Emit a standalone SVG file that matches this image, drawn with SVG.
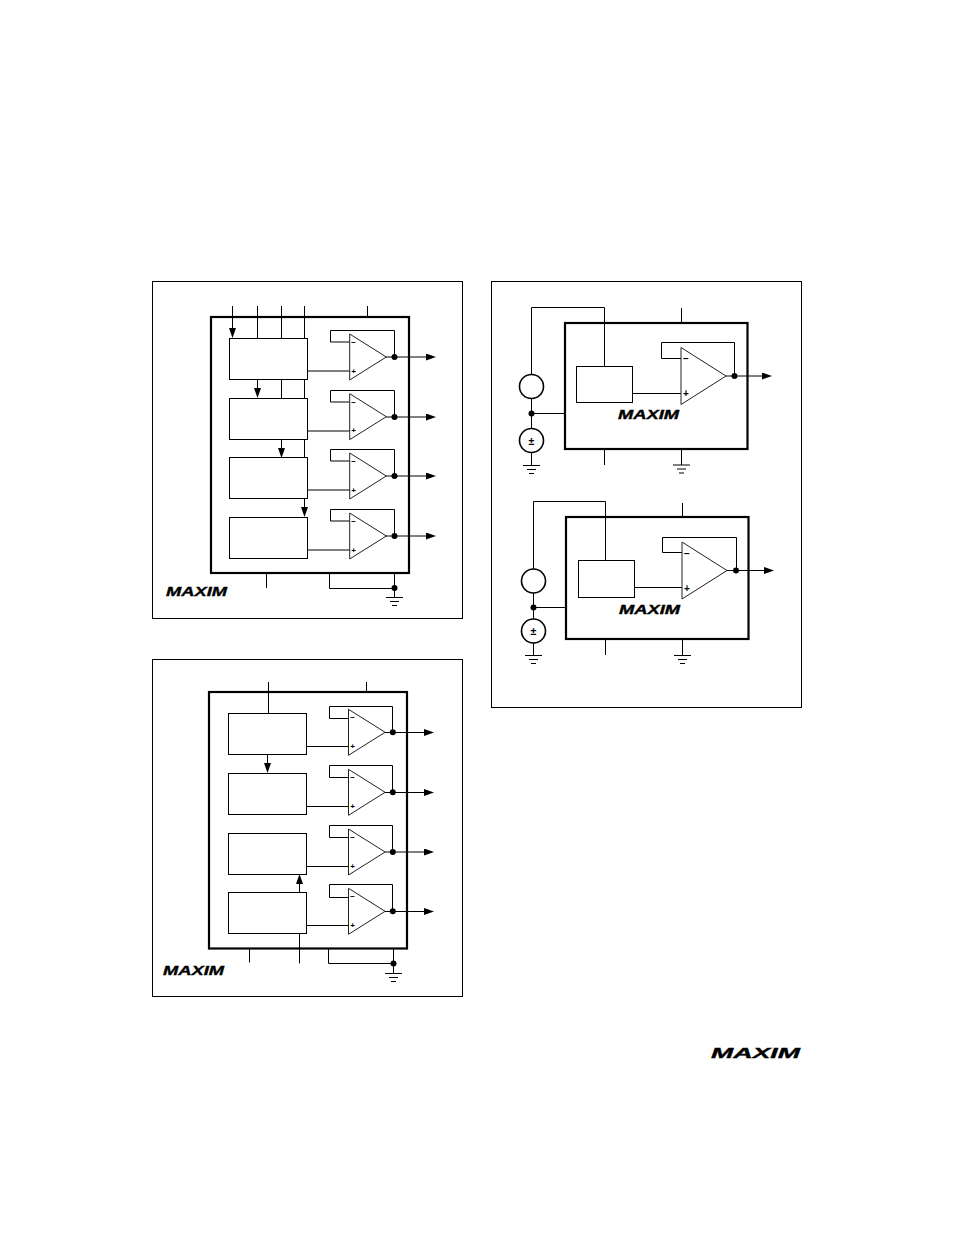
<svg xmlns="http://www.w3.org/2000/svg" width="954" height="1235" viewBox="0 0 954 1235">
<style>
.w{fill:none;stroke:#000;stroke-width:1}
.a{marker-end:url(#arrow)}
.panel{fill:#fff;stroke:#000;stroke-width:1}
.ic{fill:none;stroke:#000;stroke-width:2.2}
.blk{fill:#fff;stroke:#000;stroke-width:1}
.amp{fill:#fff;stroke:#222;stroke-width:1;stroke-linejoin:miter}
.src{fill:#fff;stroke:#000;stroke-width:1.6}
.dot{fill:#000}
.sgn{font-family:"Liberation Sans",Arial,sans-serif;font-weight:700;fill:#000;text-anchor:middle}
.logo{font-family:"Liberation Sans",Arial,sans-serif;font-weight:700;font-style:italic;fill:#000;stroke:#000;stroke-width:.35}
</style>
<defs>
<marker id="arrow" markerUnits="userSpaceOnUse" markerWidth="11" markerHeight="8" refX="7" refY="3.5" orient="auto">
<path d="M0 0L10 3.5L0 7Z" fill="#000"/>
</marker>
<g id="amp-s">
<path class="amp" d="M0 -23L36.6 0L0 23Z"/>
<text class="sgn" x="4" y="-12" font-size="8">−</text>
<text class="sgn" x="4" y="16.5" font-size="8">+</text>
</g>
<g id="amp-l">
<path class="amp" d="M0 -28.5L45 0L0 28.5Z"/>
<text class="sgn" x="5" y="-14" font-size="10">−</text>
<text class="sgn" x="5" y="21" font-size="10">+</text>
</g>
<g id="gnd">
<path class="w" d="M-8.5 0H8.5M-4.5 4H4.5M-2.5 8H2.5"/>
</g>
</defs>
<rect width="954" height="1235" fill="#fff"/>
<rect class="panel" x="152.5" y="281.5" width="310" height="337"/>
<rect class="panel" x="152.5" y="659.5" width="310" height="337"/>
<rect class="panel" x="491.5" y="281.5" width="310" height="426"/>

<g id="connectors">
<!-- panel 1 -->
<path class="w a" d="M232.5 306V335"/>
<path class="w" d="M257.5 306V338M281.5 306V338M304.5 306V338M367.5 306V317"/>
<path class="w a" d="M257.5 379V395"/>
<path class="w" d="M281.5 379V398M304.5 379V398M304.5 439V457"/>
<path class="w a" d="M281.5 439V455"/>
<path class="w a" d="M304.5 498V514"/>
<path class="w" d="M307 371H350M307 431H350M307 490H350M307 550H350"/>
<path class="w" d="M350 342H330.5V330.5H394.5V357M350 402H330.5V390.5H394.5V417M350 461H330.5V449.5H394.5V476M350 521H330.5V509.5H394.5V536"/>
<path class="w a" d="M386 357H433"/>
<path class="w a" d="M386 417H433"/>
<path class="w a" d="M386 476H433"/>
<path class="w a" d="M386 536H433"/>
<path class="w" d="M266.5 573V588M329.5 573V588.5H394.5M394.5 573V597"/>
<circle class="dot" cx="394.5" cy="357" r="3"/><circle class="dot" cx="394.5" cy="417" r="3"/><circle class="dot" cx="394.5" cy="476" r="3"/><circle class="dot" cx="394.5" cy="536" r="3"/><circle class="dot" cx="394.5" cy="588" r="3"/>
<!-- panel 2 -->
<path class="w" d="M268.5 682V713M366.5 682V692"/>
<path class="w a" d="M267.5 754V770"/>
<path class="w a" d="M299.5 892V877"/>
<path class="w" d="M299.5 933V963.5M249.5 948V962.5M328.5 948V963.5H393.5M393.5 948V973"/>
<path class="w" d="M306 746.5H349M306 806.5H349M306 866.5H349M306 925.5H349"/>
<path class="w" d="M349 718.5H329.5V706.5H392.5V732M349 777.5H329.5V765.5H392.5V792M349 837.5H329.5V825.5H392.5V852M349 897.5H329.5V884.5H392.5V911"/>
<path class="w a" d="M385 732.5H431"/>
<path class="w a" d="M385 792.5H431"/>
<path class="w a" d="M385 852H431"/>
<path class="w a" d="M385 911.5H431"/>
<circle class="dot" cx="392.8" cy="732.3" r="3"/><circle class="dot" cx="392.8" cy="792.3" r="3"/><circle class="dot" cx="392.8" cy="852" r="3"/><circle class="dot" cx="392.8" cy="911.3" r="3"/><circle class="dot" cx="393.5" cy="963.5" r="3"/>
<!-- panel 3 top -->
<path class="w" d="M531.5 374V307.5H604.5V366M681.5 308V323M531.5 398V428M531.5 413.5H565M531.5 452V465M604.5 449V465M681.5 449V465"/>
<path class="w" d="M632 393.5H681M681 358.5H661.5V342.5H734.5V376"/>
<path class="w a" d="M725 376H769"/>
<circle class="dot" cx="734.5" cy="376" r="3"/><circle class="dot" cx="531.5" cy="413.5" r="3"/>
<!-- panel 3 bottom -->
<path class="w" d="M533.5 569V501.5H605.5V560M682.5 503V517M533.5 593V619M533.5 607.5H566M533.5 643V655M605.5 639V655M682.5 639V655"/>
<path class="w" d="M634 587.5H682M682 552.5H662.5V537.5H736.5V570.5"/>
<path class="w a" d="M727 570.5H771"/>
<circle class="dot" cx="736" cy="570.5" r="3"/><circle class="dot" cx="533.5" cy="607.5" r="3"/>
</g>

<g id="ic-1"><rect class="ic" x="211" y="317" width="198" height="256"/></g>
<g id="block-1a"><rect class="blk" x="229.5" y="338.5" width="78" height="41"/></g>
<g id="block-1b"><rect class="blk" x="229.5" y="398.5" width="78" height="41"/></g>
<g id="block-1c"><rect class="blk" x="229.5" y="457.5" width="78" height="41"/></g>
<g id="block-1d"><rect class="blk" x="229.5" y="517.5" width="78" height="41"/></g>
<g id="amp-1a"><use href="#amp-s" x="349.7" y="357"/></g>
<g id="amp-1b"><use href="#amp-s" x="349.7" y="416.7"/></g>
<g id="amp-1c"><use href="#amp-s" x="349.7" y="476"/></g>
<g id="amp-1d"><use href="#amp-s" x="349.7" y="536"/></g>
<g id="gnd-1"><use href="#gnd" x="394.5" y="597.5"/></g>
<g id="logo-1"><text class="logo" x="166" y="596" font-size="12.5" textLength="61" lengthAdjust="spacingAndGlyphs">MAXIM</text></g>

<g id="ic-2"><rect class="ic" x="209" y="692" width="198" height="256.5"/></g>
<g id="block-2a"><rect class="blk" x="228.5" y="713.5" width="78" height="41"/></g>
<g id="block-2b"><rect class="blk" x="228.5" y="773.5" width="78" height="41"/></g>
<g id="block-2c"><rect class="blk" x="228.5" y="833.5" width="78" height="41"/></g>
<g id="block-2d"><rect class="blk" x="228.5" y="892.5" width="78" height="41"/></g>
<g id="amp-2a"><use href="#amp-s" x="348.5" y="732.3"/></g>
<g id="amp-2b"><use href="#amp-s" x="348.5" y="792.3"/></g>
<g id="amp-2c"><use href="#amp-s" x="348.5" y="852"/></g>
<g id="amp-2d"><use href="#amp-s" x="348.5" y="911.3"/></g>
<g id="gnd-2"><use href="#gnd" x="393.5" y="973.5"/></g>
<g id="logo-2"><text class="logo" x="163" y="975" font-size="12.5" textLength="61" lengthAdjust="spacingAndGlyphs">MAXIM</text></g>

<g id="ic-3"><rect class="ic" x="565" y="323" width="182.5" height="126"/></g>
<g id="block-3"><rect class="blk" x="576.5" y="366.5" width="56" height="36"/></g>
<g id="amp-3"><use href="#amp-l" x="681" y="376"/></g>
<g id="src-3a"><circle class="src" cx="531.5" cy="386.5" r="12"/></g>
<g id="src-3b"><circle class="src" cx="531.5" cy="440.5" r="12"/><text class="sgn" x="531.5" y="444.5" font-size="10.5">±</text></g>
<g id="gnd-3a"><use href="#gnd" x="531.5" y="465.5"/></g>
<g id="gnd-3b"><use href="#gnd" x="681.5" y="465"/></g>
<g id="logo-3"><text class="logo" x="618" y="419" font-size="12" textLength="61" lengthAdjust="spacingAndGlyphs">MAXIM</text></g>

<g id="ic-4"><rect class="ic" x="566" y="517" width="182.5" height="122"/></g>
<g id="block-4"><rect class="blk" x="578.5" y="560.5" width="56" height="37"/></g>
<g id="amp-4"><use href="#amp-l" x="682" y="570.5"/></g>
<g id="src-4a"><circle class="src" cx="533.5" cy="581" r="12"/></g>
<g id="src-4b"><circle class="src" cx="533.5" cy="631" r="12"/><text class="sgn" x="533.5" y="635" font-size="10.5">±</text></g>
<g id="gnd-4a"><use href="#gnd" x="533.5" y="655.5"/></g>
<g id="gnd-4b"><use href="#gnd" x="682.5" y="655.5"/></g>
<g id="logo-4"><text class="logo" x="619" y="614" font-size="12" textLength="61" lengthAdjust="spacingAndGlyphs">MAXIM</text></g>

<g id="logo-page"><text class="logo" x="711" y="1058" font-size="15" textLength="89" lengthAdjust="spacingAndGlyphs">MAXIM</text></g>
</svg>
